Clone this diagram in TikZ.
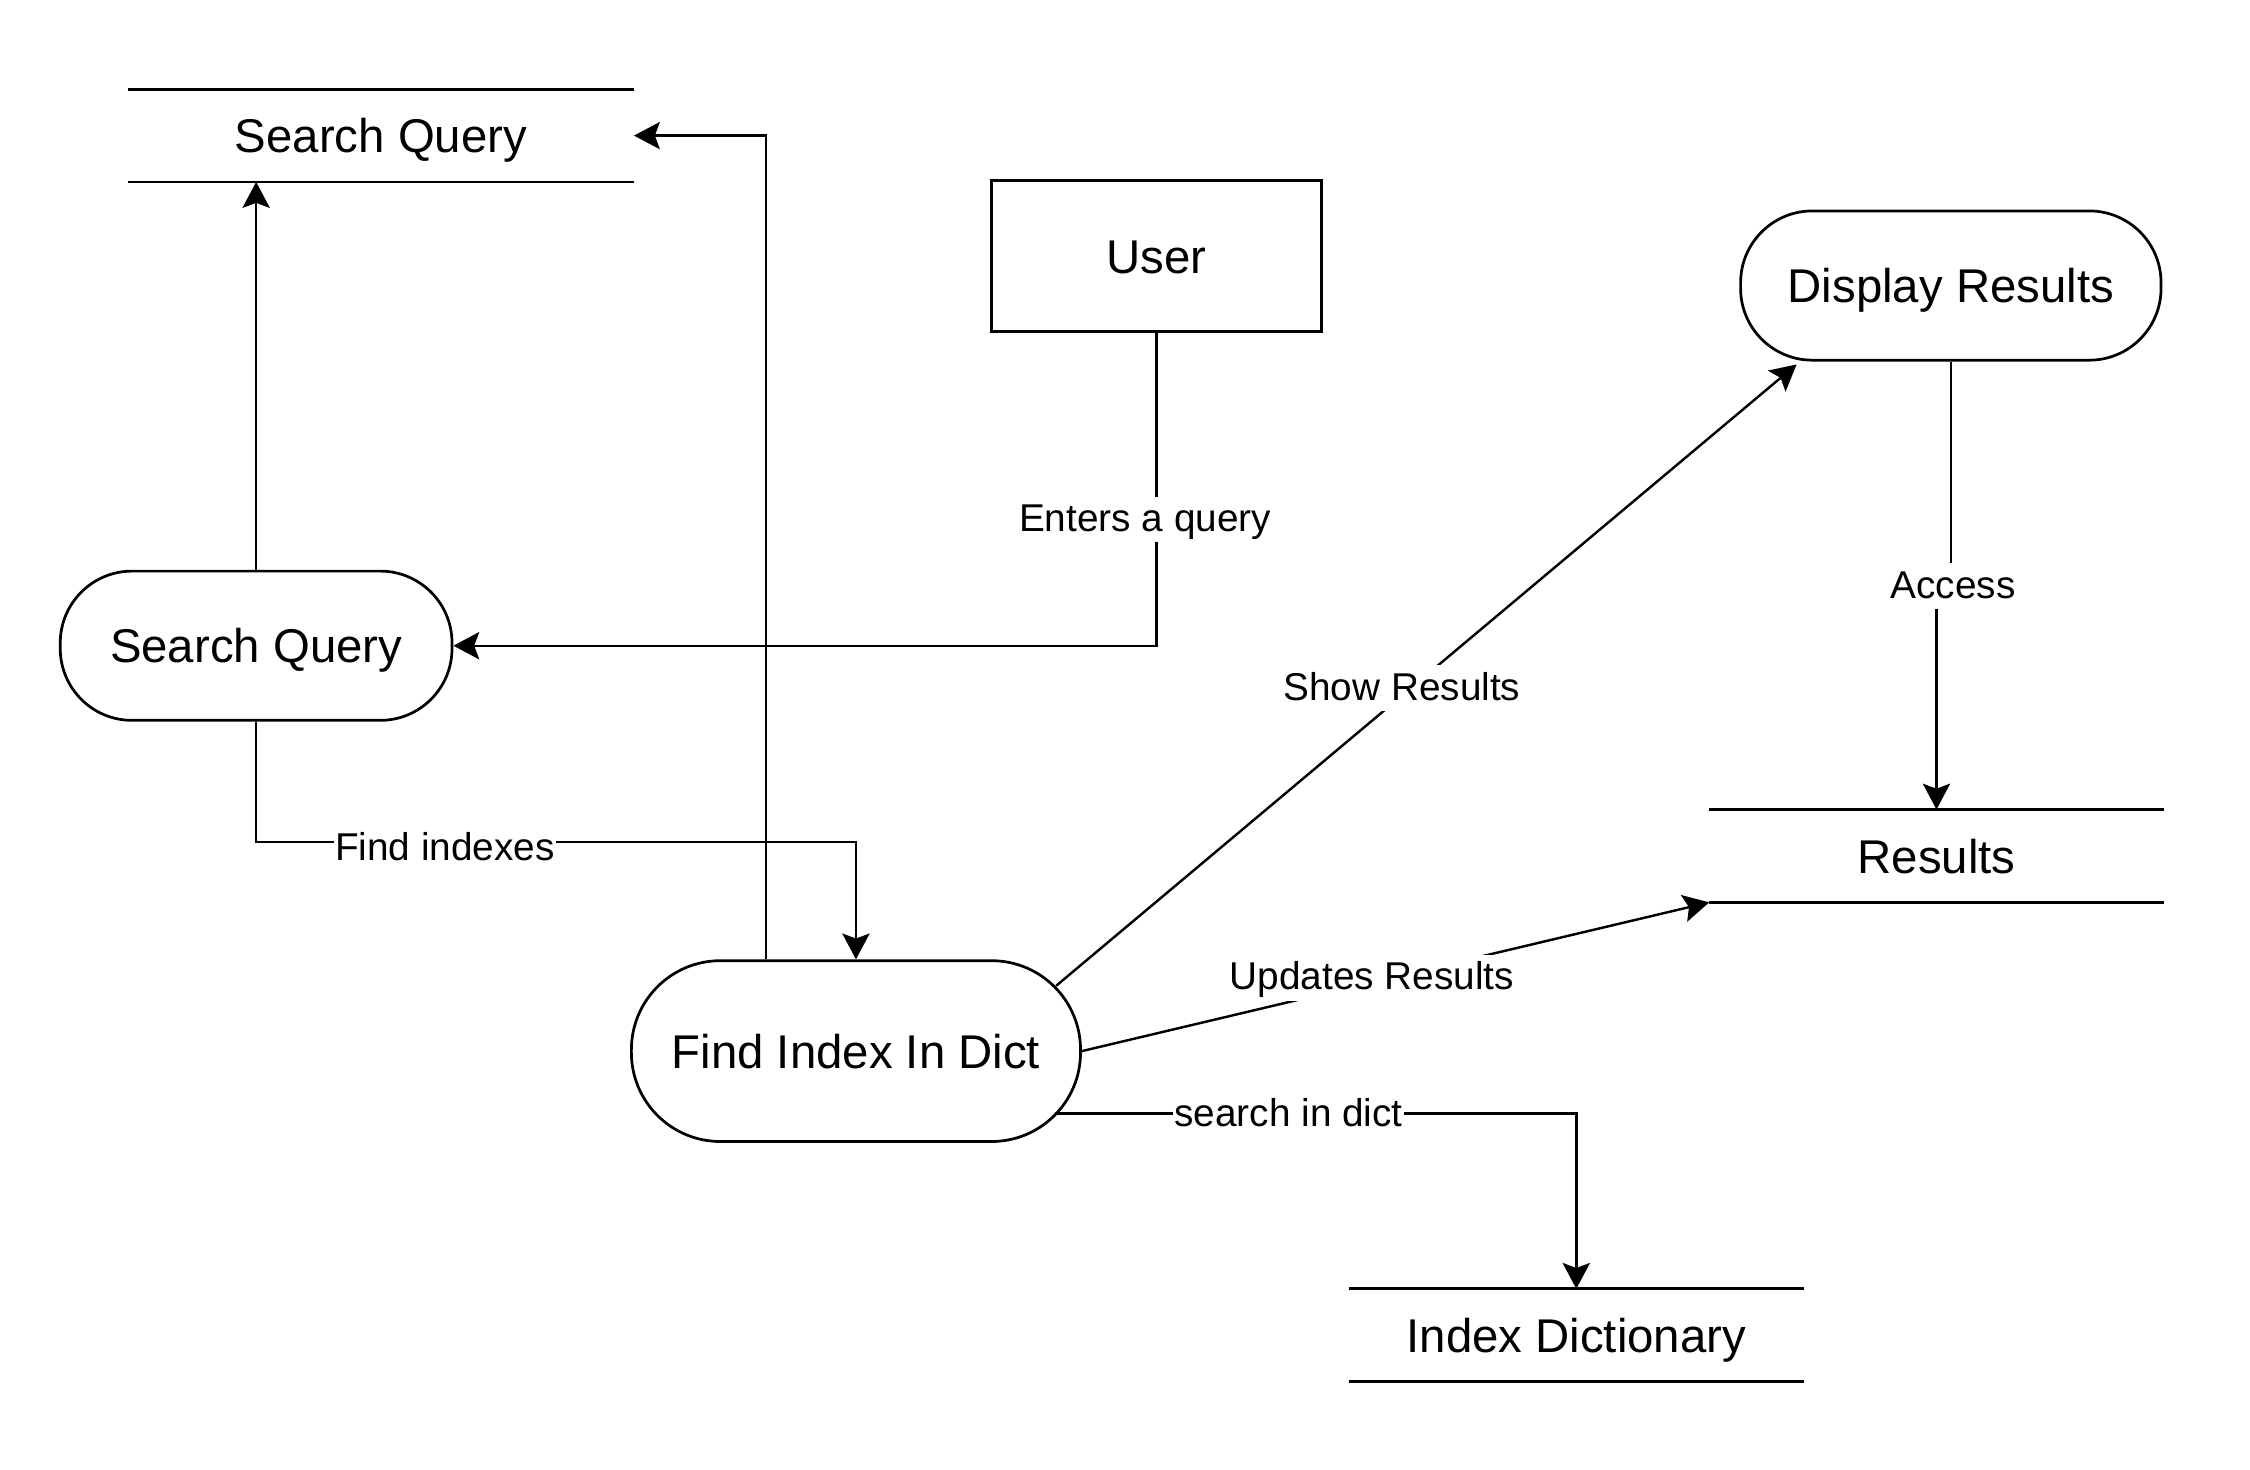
\documentclass[tikz,border=0pt]{standalone}
\usepackage{fontspec}
\setmainfont{Liberation Sans}
\usetikzlibrary{arrows.meta}
\begin{document}
\begin{tikzpicture}[x=1pt,y=-1pt,line width=1.7pt,
  big/.style={font=\fontsize{33}{40}\selectfont,text height=23.8pt,text depth=0pt},
  proc/.style={big,draw,line width=1.9pt,rounded corners=50pt,inner sep=0pt},
  ext/.style={big,draw,line width=1.9pt,inner sep=0pt},
  store/.style={big,inner sep=0pt},
  storeline/.style={line width=2pt},
  lbl/.style={fill=white,inner xsep=1pt,inner ysep=0pt,text height=24.3pt,text depth=7.6pt,font=\fontsize{27}{32}\selectfont},
  arr/.style={-{Stealth[length=18pt,width=19pt,inset=3.5pt]}}]
\useasboundingbox (0,0) rectangle (1568,1024.4);
% nodes
\node[store,minimum width=351,minimum height=63] (sq) at (265.5,94.5) {Search Query};
\draw[storeline] (sq.north west) -- (sq.north east) (sq.south west) -- (sq.south east);
\node[proc,minimum width=273,minimum height=104] (sqp) at (178.5,450) {Search Query};
\node[ext,minimum width=230,minimum height=105] (user) at (806,178.5) {User};
\node[proc,minimum width=293,minimum height=104] (dr) at (1359.5,199) {Display Results};
\node[store,minimum width=315,minimum height=63] (res) at (1349.5,596.5) {Results};
\draw[storeline] (res.north west) -- (res.north east) (res.south west) -- (res.south east);
\node[proc,rounded corners=62pt,minimum width=313,minimum height=126] (fid) at (596.5,732.5) {Find Index In Dict};
\node[store,minimum width=315,minimum height=63] (idx) at (1098.5,930.5) {Index Dictionary};
\draw[storeline] (idx.north west) -- (idx.north east) (idx.south west) -- (idx.south east);
% connectors
\draw[arr] (sqp.north) -- (sqp.north |- sq.south);
\draw[arr] ([xshift=-62.5pt]fid.north) |- (sq.east);
\draw[arr] (user.south) |- (sqp.east);
\node[lbl] (l1) at (798,362) {Enters a query};
\draw[arr] (sqp.south) -- ++(0,84) -| (fid.north);
\node[lbl] (l2) at (310,591.5) {Find indexes};
\draw[arr] ([shift={(139.5,-45.5)}]fid.center) -- ([shift={(-107.5,55)}]dr.center);
\node[lbl] (l3) at (977,479.5) {Show Results};
\draw[arr] (fid.east) -- (res.south west);
\node[lbl] (l4) at (956,681.5) {Updates Results};
\draw[arr] ([shift={(138.5,43.5)}]fid.center) -| (idx.north);
\node[lbl] (l5) at (898,776.5) {search in dict};
\draw[arr] (dr.south) -- ++(0,155) -| (res.north);
\node[lbl] (l6) at (1361,408.5) {Access};
\end{tikzpicture}
\end{document}
